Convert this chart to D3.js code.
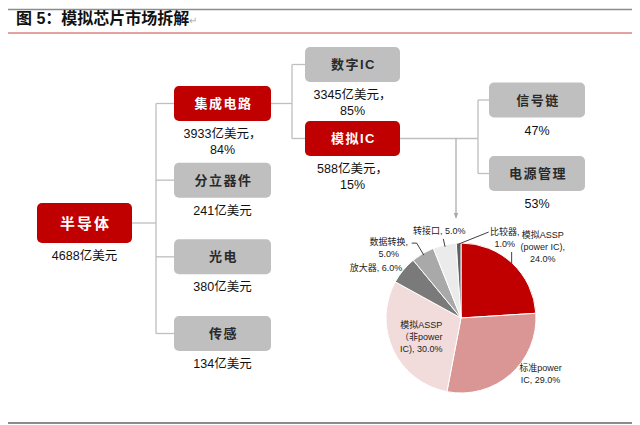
<!DOCTYPE html>
<html>
<head>
<meta charset="utf-8">
<script src="https://cdn.jsdelivr.net/npm/d3@7"></script>
<style>
  body { margin: 0; background: #fff; }
  text { font-family: "Liberation Sans", "Noto Sans CJK SC", sans-serif; }
</style>
</head>
<body>
<script>
const width = 640;
const height = 425;

// tree of the market (亿美元 / share %)
const nodeNames   = ["半导体", "集成电路", "分立器件", "光电", "传感", "数字IC", "模拟IC", "信号链", "电源管理"];
const nodeParents = [null, "半导体", "半导体", "半导体", "半导体", "集成电路", "集成电路", "模拟IC", "模拟IC"];
const nodeSizes   = [4688, 3933, 241, 380, 134, 3345, 588, null, null];
const nodeShares  = [null, 84, null, null, null, 85, 15, 47, 53];
const redNodes    = ["半导体", "集成电路", "模拟IC"];

// analog IC split
const pieNames  = [["模拟ASSP", "(power IC),"], ["标准power", "IC,"], ["模拟ASSP", "（非power", "IC),"],
                   ["放大器,"], ["数据转换,"], ["转接口,"], ["比较器,"]];
const pieValues = [24, 29, 30, 6, 5, 5, 1];
const pieInline = [false, true, true, true, false, true, false];
const pieColors = ["#c00000", "#d99694", "#f2dcdb", "#7a7a7a", "#a9a9a9", "#ebebeb", "#606060"];

let svg = d3.select("body")
  .append("svg")
  .attr("width", width)
  .attr("height", height)
  .attr("viewBox", [0, 0, width, height]);

// frame lines + title
svg.append("line").attr("x1", 8).attr("x2", 632).attr("y1", 9.5).attr("y2", 9.5)
  .attr("stroke", "#8c8c8c").attr("stroke-width", 1.5);
svg.append("line").attr("x1", 8).attr("x2", 632).attr("y1", 33).attr("y2", 33)
  .attr("stroke", "#c84545").attr("stroke-width", 1);
svg.append("line").attr("x1", 8).attr("x2", 632).attr("y1", 423).attr("y2", 423)
  .attr("stroke", "#8c8c8c").attr("stroke-width", 2);

let title = svg.append("text")
  .attr("x", 16).attr("y", 24)
  .attr("font-size", 16).attr("font-weight", "bold").attr("fill", "#111");
title.append("tspan").text("图 5：模拟芯片市场拆解");
title.append("tspan").attr("font-size", 10).attr("font-weight", "normal").attr("fill", "#aaa").text("↵");

// ---- tree ----
const table = nodeNames.map((n, i) => ({ name: n, parent: nodeParents[i], size: nodeSizes[i], share: nodeShares[i] }));
const root = d3.stratify().id(d => d.name).parentId(d => d.parent)(table);

const boxX = d3.scaleOrdinal().domain([0, 1, 2, 3]).range([37, 174, 305, 489]);
const boxW = d3.scaleOrdinal().domain([0, 1, 2, 3]).range([95, 97, 95, 96]);
const boxH = d3.scaleOrdinal().domain([0, 1, 2, 3]).range([40, 35, 35, 35]);
const busX = d3.scaleOrdinal().domain([0, 1, 2]).range([156, 292, 478]);
const childRange = { "半导体": [103.5, 333.5], "集成电路": [64.5, 138.5], "模拟IC": [100, 173.5] };

root.y = 223;
root.each(d => {
  if (d.children) {
    const ys = d3.scalePoint().domain(d.children.map(c => c.id)).range(childRange[d.id]);
    d.children.forEach(c => c.y = ys(c.id));
  }
  d.x0 = boxX(d.depth);
  d.w = boxW(d.depth);
  d.h = boxH(d.depth);
});

const conn = svg.append("g").attr("stroke", "#bfbfbf").attr("stroke-width", 1.3).attr("fill", "none");
root.each(d => {
  if (!d.children) return;
  const bx = busX(d.depth);
  const kids = d.children;
  conn.append("line").attr("x1", d.x0 + d.w).attr("x2", bx).attr("y1", d.y).attr("y2", d.y);
  conn.append("line").attr("x1", bx).attr("x2", bx).attr("y1", kids[0].y).attr("y2", kids[kids.length - 1].y);
  kids.forEach(c => conn.append("line").attr("x1", bx).attr("x2", c.x0).attr("y1", c.y).attr("y2", c.y));
});

const nodes = svg.append("g").selectAll("g").data(root.descendants()).join("g");
nodes.append("rect")
  .attr("x", d => d.x0).attr("y", d => d.y - d.h / 2)
  .attr("width", d => d.w).attr("height", d => d.h)
  .attr("rx", 5)
  .attr("fill", d => redNodes.includes(d.id) ? "#c00000" : "#bfbfbf");
nodes.append("text")
  .attr("x", d => d.x0 + d.w / 2 + 1).attr("y", d => d.y)
  .attr("text-anchor", "middle").attr("dominant-baseline", "central")
  .attr("font-family", "'Noto Sans CJK SC', sans-serif")
  .attr("font-size", d => d.depth === 0 ? 15 : 13)
  .attr("letter-spacing", d => d.depth === 0 ? 2 : 1.5)
  .attr("font-weight", "bold")
  .attr("fill", d => redNodes.includes(d.id) ? "#fff" : "#2a2a2a")
  .text(d => d.id);

nodes.each(function(d) {
  const lines = [];
  const s = d.data.size, p = d.data.share;
  if (s != null && p != null) { lines.push(s + "亿美元，"); lines.push(p + "%"); }
  else if (s != null) lines.push(s + "亿美元");
  else lines.push(p + "%");
  d3.select(this).selectAll("text.lab").data(lines).join("text")
    .attr("class", "lab")
    .attr("x", d.x0 + d.w / 2)
    .attr("y", (l, i) => d.y + d.h / 2 + 13 + i * 15.5)
    .attr("text-anchor", "middle").attr("dominant-baseline", "central")
    .attr("font-size", 12.5).attr("fill", "#111")
    .text(l => l);
});

// ---- pie ----
const cx = 461, cy = 318, r = 75;
const pieG = svg.append("g").attr("transform", `translate(${cx},${cy})`);
const arcs = d3.pie().sort(null).value(v => v)(pieValues);
const arc = d3.arc().innerRadius(0).outerRadius(r);
pieG.selectAll("path").data(arcs).join("path")
  .attr("d", arc)
  .attr("fill", (d, i) => pieColors[i])
  .attr("stroke", "#fff").attr("stroke-width", 1);

// arrow from 模拟IC to the pie
const mic = root.descendants().find(d => d.id === "模拟IC");
svg.append("defs").append("marker")
  .attr("id", "ah").attr("viewBox", "0 0 10 10").attr("refX", 9).attr("refY", 5)
  .attr("markerWidth", 5).attr("markerHeight", 5).attr("orient", "auto")
  .append("path").attr("d", "M0,1L10,5L0,9Z").attr("fill", "#a8a8a8");
svg.append("line")
  .attr("x1", cx - 5).attr("x2", cx - 5).attr("y1", mic.y).attr("y2", cy - r - 25)
  .attr("stroke", "#a8a8a8").attr("stroke-width", 1.2).attr("marker-end", "url(#ah)");

const polar = (a, rr) => [rr * Math.sin(a), -rr * Math.cos(a)];
const fmt = d3.format(".1f");
// per-slice label placement: anchor radius, offset, alignment, leader
const labelLayout = [
  { rad: 74, dx: 31, dy: -29, anchor: "middle", leader: p => [p, [p[0], p[1] - 12]] },
  { rad: 75, dx: 30, dy: -6, anchor: "middle" },
  { rad: 45, dx: 1, dy: -12, anchor: "middle" },
  { rad: 80, dx: 3, dy: 1, anchor: "end" },
  { rad: 87, dx: -28, dy: -1, anchor: "middle", leader: (p, a) => [polar(a, 73), p, [p[0] - 5, p[1]]] },
  { rad: 81, dx: -4, dy: -8, anchor: "middle", leader: (p, a) => [polar(a, 73), p] },
  { rad: 74, dx: 46, dy: -12, anchor: "middle", leader: p => [p, [p[0] + 30, p[1] - 12]] }
];

arcs.forEach((d, i) => {
  const a = (d.startAngle + d.endAngle) / 2;
  const L = labelLayout[i];
  const p = polar(a, L.rad);
  const pct = fmt(pieValues[i]) + "%";
  const lines = pieNames[i].slice();
  if (pieInline[i]) lines[lines.length - 1] += " " + pct; else lines.push(pct);
  if (L.leader) {
    pieG.append("path").attr("d", d3.line()(L.leader(p, a)))
      .attr("fill", "none").attr("stroke", "#404040").attr("stroke-width", 1);
  }
  pieG.append("g").selectAll("text").data(lines).join("text")
    .attr("x", p[0] + L.dx).attr("y", (l, j) => p[1] + L.dy + j * 12)
    .attr("text-anchor", L.anchor).attr("dominant-baseline", "central")
    .attr("font-size", 9).attr("fill", "#222")
    .text(l => l);
});
</script>
</body>
</html>
